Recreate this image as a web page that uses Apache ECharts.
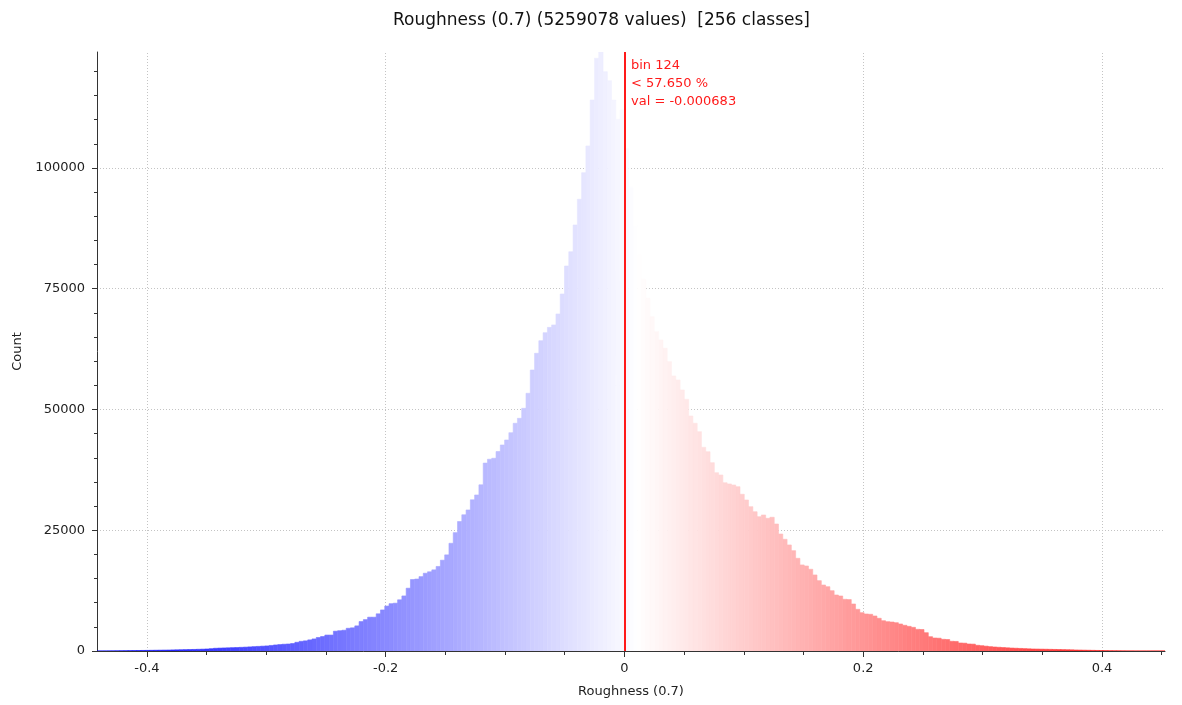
<!DOCTYPE html>
<html><head><meta charset="utf-8">
<script src="https://cdn.jsdelivr.net/npm/echarts@6/dist/echarts.min.js"></script>
<style>html,body{margin:0;padding:0;background:#fff}#c{width:1182px;height:705px}</style>
</head><body><div id="c"></div>
<script>
const chartTitle = 'Roughness (0.7) (5259078 values)  [256 classes]';
const xAxisName = 'Roughness (0.7)';
const yAxisName = 'Count';
const binWidth = 0.003585;
const firstBinStart = -0.448125;
const counts = [
  1, 2, 5, 8, 12, 20, 30, 40, 50, 65,
  80, 95, 110, 125, 140, 155, 170, 185, 200, 220,
  240, 260, 280, 300, 320, 350, 380, 420, 480, 560,
  600, 630, 660, 690, 720, 760, 800, 850, 900, 950,
  1000, 1050, 1150, 1250, 1330, 1400, 1450, 1550, 1800, 2000,
  2100, 2300, 2500, 2800, 3000, 3300, 3300, 4100, 4200, 4300,
  4700, 4800, 5200, 6100, 6500, 7000, 7000, 7700, 8500, 9300,
  9800, 9900, 10600, 11400, 13000, 14800, 14900, 15400, 16100, 16400,
  16800, 17500, 18800, 19900, 22300, 24500, 26800, 28200, 29200, 31300,
  32300, 34400, 38900, 39700, 39900, 41300, 42650, 43680, 45190, 47140,
  48170, 50240, 53350, 58170, 61630, 64240, 65900, 67000, 67500, 69770,
  73900, 79700, 82660, 88190, 93510, 99020, 104550, 114060, 122700, 124000,
  119930, 118060, 114060, 110060, 112000,
  104000, 96000, 88000, 82000, 77000, 73000,
  69210, 66110, 64390, 62670, 59900, 56940, 56110, 54040, 52110, 48650,
  47140, 45400, 42170, 41260, 38990, 36920, 36440, 34840, 34580, 34370,
  34020, 32440, 31260, 29880, 28840, 27810, 28160, 27470, 27680, 26290,
  24220, 23130, 21950, 20770, 19190, 17810, 17600, 16920, 15740, 14560,
  13660, 13310, 12480, 11590, 11390, 10700, 10650, 9730, 8630, 7930,
  7660, 7600, 7250, 6770, 6270, 6070, 6000, 5860, 5590, 5320,
  5100, 4900, 4490, 4450, 3790, 2960, 2690, 2650, 2420, 2380,
  2010, 1980, 1660, 1620, 1450, 1420, 1180, 1100, 1000, 900,
  830, 770, 720, 660, 610, 570, 530, 490, 450, 420,
  400, 380, 360, 340, 320, 300, 280, 260, 240, 210,
  190, 170, 150, 130, 110, 90, 70, 50, 40, 30,
  20, 15, 10, 6, 4, 3, 2, 1, 1, 1,
  0, 0, 0, 0, 0
];
const xTickLabels = [-0.4, -0.2, 0, 0.2, 0.4];
const xMinorTicks = [-0.4, -0.35, -0.3, -0.25, -0.2, -0.15, -0.1, -0.05, 0, 0.05, 0.1, 0.15, 0.2, 0.25, 0.3, 0.35, 0.4, 0.45];
const yTickLabels = [0, 25000, 50000, 75000, 100000];
const yMinorTicks = [0, 5000, 10000, 15000, 20000, 25000, 30000, 35000, 40000, 45000, 50000, 55000, 60000, 65000, 70000, 75000, 80000, 85000, 90000, 95000, 100000, 105000, 110000, 115000, 120000];
const xRange = [-0.4418, 0.4528];
const yRange = [0, 124000];
const cursorBin = 124;
const cursorPercent = '57.650';
const cursorValue = -0.000683;

const vMin = firstBinStart;
const vMax = firstBinStart + counts.length * binWidth;
function colorFor(v) {
  const t = Math.max(0, Math.min(1, (v - vMin) / (vMax - vMin)));
  if (t < 0.5) {
    const c = Math.round(255 * (t / 0.5));
    return 'rgb(' + c + ',' + c + ',255)';
  } else {
    const c = Math.round(255 * ((1 - t) / 0.5));
    return 'rgb(255,' + c + ',' + c + ')';
  }
}
const binData = counts.map((c, i) => [firstBinStart + i * binWidth, firstBinStart + (i + 1) * binWidth, c]);

const FONT = 'DejaVu Sans';
const gridDot = {color: '#c4c4c4', type: [1, 2], width: 1};
const chart = echarts.init(document.getElementById('c'), null, {renderer: 'canvas'});
chart.setOption({
  animation: false,
  backgroundColor: '#fff',
  title: {
    text: chartTitle, left: 388, top: 7,
    textStyle: {fontFamily: FONT, fontSize: 17, fontWeight: 'normal', color: '#111'}
  },
  grid: {left: 97, right: 17, top: 52, bottom: 54, containLabel: false},
  xAxis: [{
    type: 'value', min: xRange[0], max: xRange[1],
    name: xAxisName, nameLocation: 'middle', nameGap: 34,
    nameTextStyle: {fontFamily: FONT, fontSize: 13, color: '#222'},
    axisLine: {show: true, onZero: false, lineStyle: {color: '#333', width: 1}},
    axisTick: {show: true, length: 6, customValues: xTickLabels, lineStyle: {color: '#333'}},
    axisLabel: {show: true, customValues: xTickLabels, margin: 11, fontFamily: FONT, fontSize: 13, color: '#222',
      formatter: v => String(v)},
    splitLine: {show: false}
  }, {
    type: 'value', min: xRange[0], max: xRange[1], position: 'bottom',
    axisLine: {show: false, onZero: false},
    axisTick: {show: true, length: 4, customValues: xMinorTicks, lineStyle: {color: '#333'}},
    axisLabel: {show: false},
    splitLine: {show: false}
  }],
  yAxis: [{
    type: 'value', min: yRange[0], max: yRange[1],
    name: yAxisName, nameLocation: 'middle', nameGap: 72, nameRotate: 90,
    nameTextStyle: {fontFamily: FONT, fontSize: 13, color: '#222'},
    axisLine: {show: true, onZero: false, lineStyle: {color: '#333', width: 1}},
    axisTick: {show: true, length: 5, customValues: yTickLabels, lineStyle: {color: '#333'}},
    axisLabel: {show: true, customValues: yTickLabels, margin: 12, fontFamily: FONT, fontSize: 13, color: '#222',
      formatter: v => String(v)},
    splitLine: {show: true, showMinLine: false, showMaxLine: true, lineStyle: gridDot}
  }, {
    type: 'value', min: yRange[0], max: yRange[1], position: 'left',
    axisLine: {show: false, onZero: false},
    axisTick: {show: true, length: 3, customValues: yMinorTicks, lineStyle: {color: '#333'}},
    axisLabel: {show: false},
    splitLine: {show: false}
  }],
  series: [{
    type: 'line', data: [], z: 0, silent: true,
    xAxisIndex: 0, yAxisIndex: 0,
    markLine: {
      silent: true, symbol: 'none', animation: false, z: 0,
      label: {show: false},
      lineStyle: gridDot,
      data: xTickLabels.filter(v => v !== 0).map(v => ({xAxis: v}))
    }
  }, {
    type: 'custom',
    xAxisIndex: 0, yAxisIndex: 0,
    clip: true,
    data: binData,
    encode: {x: [0, 1], y: 2},
    renderItem: function (params, api) {
      const x0 = api.value(0), x1 = api.value(1), c = api.value(2);
      const p0 = api.coord([x0, c]);
      const p1 = api.coord([x1, 0]);
      const col = colorFor((x0 + x1) / 2);
      return {
        type: 'rect',
        shape: {x: p0[0], y: p0[1], width: p1[0] - p0[0], height: p1[1] - p0[1]},
        style: {fill: col, stroke: col, lineWidth: 0.6}
      };
    },
    markLine: {
      silent: true, symbol: 'none', animation: false,
      label: {show: false},
      lineStyle: {color: '#ff1a1a', width: 2, type: 'solid'},
      data: [{xAxis: cursorValue}]
    },
    z: 2
  }],
  graphic: [
    {type: 'text', left: 631, top: 59, z: 10, style: {text: 'bin ' + cursorBin, fill: '#ff1a1a', font: '13px "DejaVu Sans"'}},
    {type: 'text', left: 631, top: 77, z: 10, style: {text: '< ' + cursorPercent + ' %', fill: '#ff1a1a', font: '13px "DejaVu Sans"'}},
    {type: 'text', left: 631, top: 95, z: 10, style: {text: 'val = ' + cursorValue.toFixed(6), fill: '#ff1a1a', font: '13px "DejaVu Sans"'}}
  ]
});
</script>
</body></html>
